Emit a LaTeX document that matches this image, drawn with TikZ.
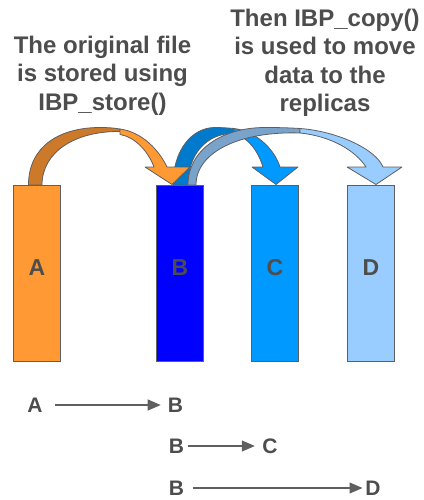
\documentclass[tikz,border=0pt]{standalone}
\usepackage{fontspec}
\setmainfont{Liberation Sans}
\usetikzlibrary{arrows.meta}

\definecolor{txtgray}{HTML}{4D4D4D}
\definecolor{edgegray}{HTML}{5F5F5F}
\definecolor{orangefront}{HTML}{FF9933}
\definecolor{orangeback}{HTML}{CC7A29}
\definecolor{bluefront}{HTML}{0099FF}
\definecolor{blueback}{HTML}{007ACC}
\definecolor{lightfront}{HTML}{99CCFF}
\definecolor{lightback}{HTML}{7AA3CC}
\definecolor{deepblue}{HTML}{0000FF}

\tikzset{
    bar/.style={draw=edgegray, line width=1pt, inner sep=0pt,
        minimum width=47pt, minimum height=176pt},
    barlabel/.style={text=txtgray, inner sep=0pt,
        font=\fontsize{23}{23}\selectfont\bfseries},
    rowlabel/.style={text=txtgray, inner sep=0pt,
        font=\fontsize{21}{21}\selectfont\bfseries},
    caption/.style={text=txtgray, inner sep=0pt, align=center,
        font=\fontsize{24}{28.5}\selectfont\bfseries},
    ribbon/.style={draw=edgegray, line width=0.8pt, line join=round},
    flow/.style={draw=edgegray, line width=1.1pt,
        -{Triangle[length=13pt, width=11pt]}},
}

\begin{document}
\begin{tikzpicture}[x=1pt, y=-1pt]
\useasboundingbox (0, 0) rectangle (423, 500);

% captions
\node [caption, anchor=north] (store) at (102.5, 35.5)
    {The original file\\is stored using\\IBP\_store()};
\node [caption, anchor=north] (copy) at (325, 8.5)
    {Then IBP\_copy()\\is used to move\\data to the\\replicas};


% the four stores
\node [bar, fill=orangefront] (barA) at (37, 273.5) {};
\node [bar, fill=deepblue] (barB) at (180, 273.5) {};
\node [bar, fill=bluefront] (barC) at (275, 273.5) {};
\node [bar, fill=lightfront] (barD) at (371, 273.5) {};

\node [barlabel] (labA) at ([yshift=5.8pt]barA.center) {A};
\node [barlabel] (labB) at ([yshift=5.8pt]barB.center) {B};
\node [barlabel] (labC) at ([yshift=5.8pt]barC.center) {C};
\node [barlabel] (labD) at ([yshift=5.8pt]barD.center) {D};


% copies B -> C
\begin{scope}[ribbon]
    \filldraw [fill=blueback] (173, 185)
        .. controls (173, 150) and (192, 127.5) .. (215, 127.5)
        .. controls (222, 127.5) and (228, 128) .. (234, 128.5)
        -- (234, 133.5)
        .. controls (206, 133) and (188, 155) .. (188, 185) -- cycle;
    \filldraw [fill=bluefront] (234, 128.5)
        .. controls (255, 131) and (274, 148) .. (280, 167)
        -- (298, 167) -- (276, 184.5) -- (252, 167) -- (263, 167)
        .. controls (258, 151) and (248, 137) .. (234, 134) -- cycle;
\end{scope}

% copies B -> D
\begin{scope}[ribbon]
    \filldraw [fill=lightback] (188, 185)
        .. controls (188, 150) and (222, 127.5) .. (265, 127.5)
        .. controls (282, 127.5) and (292, 128) .. (300, 128.5)
        -- (300, 133)
        .. controls (240, 131) and (196, 152) .. (196, 185) -- cycle;
    \filldraw [fill=lightfront] (300, 128.5)
        .. controls (335, 131) and (375, 148) .. (383, 167)
        -- (402, 167) -- (376, 184.5) -- (347, 167) -- (366, 167)
        .. controls (355, 150) and (330, 136) .. (300, 133) -- cycle;
\end{scope}

% store A -> B
\begin{scope}[ribbon]
    \filldraw [fill=orangeback] (28.5, 185)
        .. controls (28.5, 146) and (60, 127.5) .. (100, 127.5)
        .. controls (108, 127.5) and (114, 128) .. (120, 129)
        -- (120, 131.5)
        .. controls (75, 131) and (42, 152) .. (42, 185) -- cycle;
    \filldraw [fill=orangefront] (120, 129)
        .. controls (142, 132) and (159, 150) .. (167, 167)
        -- (190, 167) -- (172, 184.5) -- (145, 167) -- (154, 167)
        .. controls (148, 151) and (135, 137) .. (120, 134.5) -- cycle;
\end{scope}


% order of the transfers
\node [rowlabel] (a1) at (35, 405) {A};
\node [rowlabel] (b1) at (175.5, 405) {B};
\node [rowlabel] (b2) at (176.5, 446) {B};
\node [rowlabel] (c2) at (270, 446) {C};
\node [rowlabel] (b3) at (176.5, 488) {B};
\node [rowlabel] (d3) at (373, 488) {D};

\draw [flow, shorten <=12.4pt, shorten >=7pt] (a1.east) -- (b1.west);
\draw [flow, shorten <=3.6pt, shorten >=7.4pt] (b2.east) -- (c2.west);
\draw [flow, shorten <=8.6pt, shorten >=2.7pt] (b3.east) -- (d3.west);

\end{tikzpicture}
\end{document}
